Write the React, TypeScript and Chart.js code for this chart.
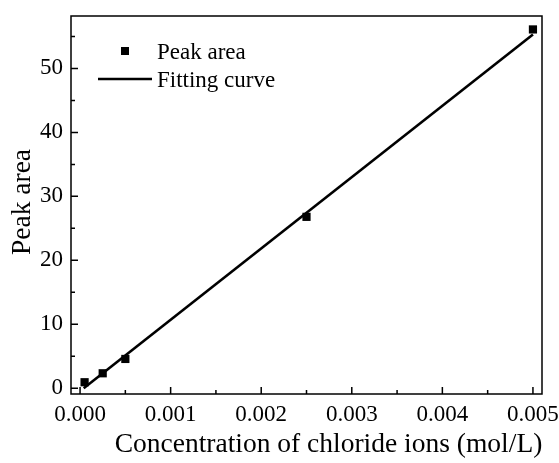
import React, { useEffect, useRef } from 'react';
import { Chart, registerables } from 'chart.js';

Chart.register(...registerables);

// Measured data (concentration in mol/L, peak area)
const CONCENTRATION = [0.00005, 0.00025, 0.0005, 0.0025, 0.005];
const PEAK_AREA = [0.94, 2.34, 4.58, 26.8, 56.1];

// Linear fitting curve end points
const FIT_X = [0.00004, 0.005];
const FIT_Y = [0.0, 55.3];

// Axis ticks
const X_MAJOR = [0, 0.001, 0.002, 0.003, 0.004, 0.005];
const X_MINOR = [0.0005, 0.0015, 0.0025, 0.0035, 0.0045];
const Y_MAJOR = [0, 10, 20, 30, 40, 50];
const Y_MINOR = [5, 15, 25, 35, 45, 55];

const X_RANGE = [-0.0001, 0.0051];
const Y_RANGE = [-0.9, 58.2];

const X_TITLE = 'Concentration of chloride ions (mol/L)';
const Y_TITLE = 'Peak area';
const SERIES_LABELS = ['Peak area', 'Fitting curve'];

const FONT = "'Liberation Serif', 'Times New Roman', serif";

export default function App() {
  const ref = useRef<HTMLCanvasElement>(null);

  useEffect(() => {
    document.body.style.margin = '0';
    const canvas = ref.current;
    if (!canvas) return;

    const decor = {
      id: 'decor',
      afterDraw(chart: any) {
        const { ctx, chartArea: a, scales } = chart;
        const xs = scales.x;
        const ys = scales.y;
        ctx.save();
        ctx.strokeStyle = '#000';
        ctx.lineWidth = 1.5;
        ctx.strokeRect(a.left, a.top, a.right - a.left, a.bottom - a.top);

        ctx.beginPath();
        X_MAJOR.forEach((v) => {
          const p = xs.getPixelForValue(v);
          ctx.moveTo(p, a.bottom);
          ctx.lineTo(p, a.bottom - 7);
        });
        X_MINOR.forEach((v) => {
          const p = xs.getPixelForValue(v);
          ctx.moveTo(p, a.bottom);
          ctx.lineTo(p, a.bottom - 4);
        });
        Y_MAJOR.forEach((v) => {
          const p = ys.getPixelForValue(v);
          ctx.moveTo(a.left, p);
          ctx.lineTo(a.left + 7, p);
        });
        Y_MINOR.forEach((v) => {
          const p = ys.getPixelForValue(v);
          ctx.moveTo(a.left, p);
          ctx.lineTo(a.left + 4, p);
        });
        ctx.stroke();

        // Axis titles
        ctx.fillStyle = '#000';
        ctx.font = `27.5px ${FONT}`;
        ctx.textAlign = 'center';
        ctx.textBaseline = 'middle';
        ctx.fillText(X_TITLE, (a.left + a.right) / 2 + 22, a.bottom + 51);
        ctx.save();
        ctx.translate(a.left - 48, (a.top + a.bottom) / 2 - 3);
        ctx.rotate(-Math.PI / 2);
        ctx.fillText(Y_TITLE, 0, 0);
        ctx.restore();

        // Legend
        ctx.font = `23px ${FONT}`;
        ctx.textAlign = 'left';
        ctx.textBaseline = 'alphabetic';
        ctx.fillStyle = '#000';
        const mx = a.left + 54;
        const my = a.top + 35;
        ctx.fillRect(mx - 4, my - 4, 8, 8);
        ctx.fillText(SERIES_LABELS[0], a.left + 86, a.top + 43);
        ctx.beginPath();
        ctx.lineWidth = 2.5;
        ctx.moveTo(a.left + 27, a.top + 63);
        ctx.lineTo(a.left + 81, a.top + 63);
        ctx.stroke();
        ctx.fillText(SERIES_LABELS[1], a.left + 86, a.top + 71);
        ctx.restore();
      },
    };

    const chart = new Chart(canvas, {
      type: 'scatter',
      data: {
        datasets: [
          {
            label: SERIES_LABELS[0],
            data: CONCENTRATION.map((x, i) => ({ x, y: PEAK_AREA[i] })),
            pointStyle: 'rect',
            pointRadius: 5.8,
            pointHoverRadius: 5.8,
            backgroundColor: '#000',
            borderColor: '#000',
            borderWidth: 0,
            clip: false as any,
          },
          {
            label: SERIES_LABELS[1],
            data: FIT_X.map((x, i) => ({ x, y: FIT_Y[i] })),
            showLine: true,
            pointRadius: 0,
            borderColor: '#000',
            borderWidth: 2.6,
            backgroundColor: '#000',
            clip: false as any,
          },
        ],
      },
      options: {
        animation: false,
        responsive: true,
        maintainAspectRatio: false,
        layout: { padding: { top: 16, right: 17, left: 0, bottom: 0 } },
        plugins: {
          legend: { display: false },
          tooltip: { enabled: false },
        },
        scales: {
          x: {
            type: 'linear',
            min: X_RANGE[0],
            max: X_RANGE[1],
            grid: { display: false, drawTicks: false },
            border: { display: false },
            afterBuildTicks: (s: any) => {
              s.ticks = X_MAJOR.map((value) => ({ value }));
            },
            afterFit: (s: any) => {
              s.height = 69;
              s.paddingLeft = 0;
              s.paddingRight = 0;
            },
            ticks: {
              color: '#000',
              padding: 7,
              maxRotation: 0,
              font: { family: FONT, size: 23 },
              callback: (v: any) => Number(v).toFixed(3),
            },
          },
          y: {
            type: 'linear',
            min: Y_RANGE[0],
            max: Y_RANGE[1],
            grid: { display: false, drawTicks: false },
            border: { display: false },
            afterBuildTicks: (s: any) => {
              s.ticks = Y_MAJOR.map((value) => ({ value }));
            },
            afterFit: (s: any) => {
              s.width = 71;
              s.paddingTop = 0;
              s.paddingBottom = 0;
            },
            ticks: {
              color: '#000',
              padding: 8,
              font: { family: FONT, size: 23 },
              callback: (v: any) => String(v),
            },
          },
        },
      },
      plugins: [decor],
    });

    return () => chart.destroy();
  }, []);

  return (
    <div style={{ position: 'absolute', left: 0, top: 0, width: 559, height: 463, background: '#fff' }}>
      <canvas ref={ref} />
    </div>
  );
}
